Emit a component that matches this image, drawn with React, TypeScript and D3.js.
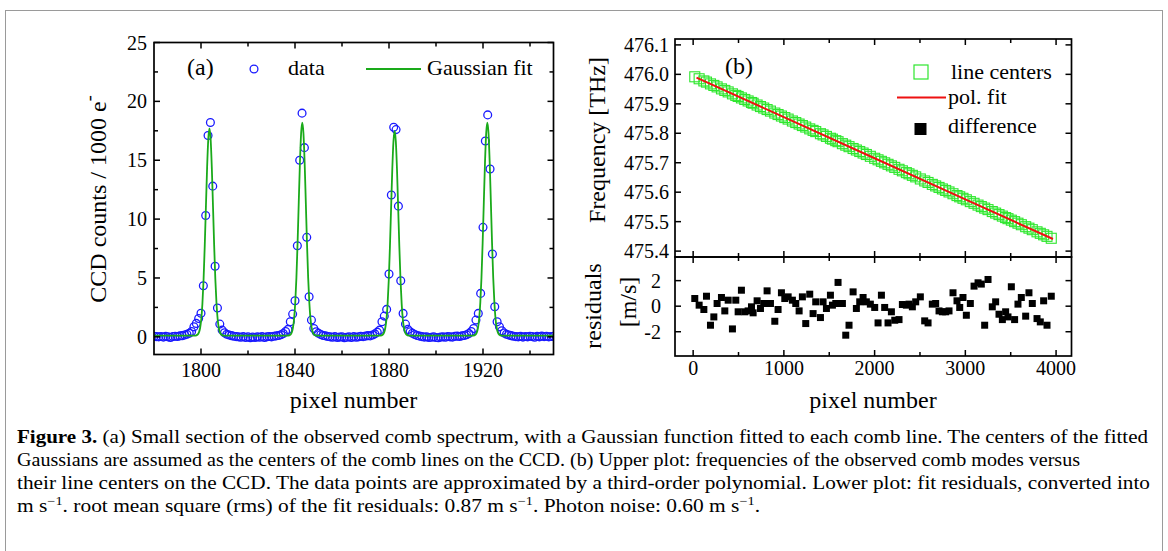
import React from "react";
import * as d3 from "d3";

const serif = '"Liberation Serif", "Times New Roman", serif';

// ---- panel (a): comb spectrum, one reading per CCD pixel from pixel 1780 on
const spectrumStart = 1780;
const spectrumCounts = [
  0.05, 0.02, 0.0, 0.03, -0.02, 0.04, 0.0, -0.05, 0.02, 0.05,
  0.03, 0.08, 0.1, 0.15, 0.22, 0.3, 0.45, 0.85, 1.14, 1.56,
  2.0, 4.34, 10.3, 17.1, 18.2, 12.8, 6.0, 2.45, 1.08, 0.57,
  0.34, 0.22, 0.15, 0.1, 0.05, 0.02, 0.0, -0.03, 0.02, -0.05,
  0.0, -0.08, -0.02, -0.05, 0.0, -0.03, 0.02, -0.06, 0.0, 0.03,
  0.0, 0.05, 0.08, 0.12, 0.18, 0.28, 0.45, 0.63, 1.28, 1.93,
  3.06, 7.74, 15.0, 19.0, 16.07, 8.45, 3.4, 1.42, 0.71, 0.43,
  0.3, 0.2, 0.12, 0.08, 0.03, 0.0, -0.04, 0.02, -0.06, -0.02,
  0.0, -0.08, -0.04, 0.0, -0.06, 0.02, -0.03, 0.0, 0.04, 0.02,
  0.06, 0.1, 0.08, 0.15, 0.25, 0.4, 0.57, 1.28, 1.76, 2.33,
  5.33, 12.05, 17.8, 17.6, 11.1, 4.76, 1.99, 1.08, 0.63, 0.43,
  0.3, 0.2, 0.12, 0.06, 0.02, -0.02, 0.0, -0.06, -0.03, 0.0,
  -0.05, -0.08, -0.02, 0.0, -0.04, 0.03, 0.0, -0.02, 0.04, 0.06,
  0.03, 0.08, 0.12, 0.18, 0.28, 0.45, 0.71, 1.42, 1.99, 3.69,
  9.3, 16.64, 18.85, 14.26, 7.03, 2.55, 1.28, 0.85, 0.51, 0.32,
  0.22, 0.15, 0.1, 0.05, 0.02, 0.0, 0.04, -0.02, 0.03, 0.0,
  0.05, 0.02, -0.03, 0.04, 0.0, 0.06, 0.02, 0.05, 0.0, 0.03,
  0.04,
];

// gaussian fit: centres, offsets from centre, fitted values
const fitBaseline = 0.1;
const fitCenters = [1803.6, 1843.1, 1882.4, 1921.85];
const fitOffsets = [-6, -5, -4, -3.5, -3, -2.5, -2, -1.5, -1, -0.5, 0, 0.5, 1, 1.5, 2, 2.5, 3, 3.5, 4, 5, 6];
const fitProfiles = [
  [0.11, 0.2, 0.73, 1.47, 2.81, 4.89, 7.76, 11.12, 14.39, 16.8, 17.7, 16.8, 14.39, 11.12, 7.76, 4.89, 2.81, 1.47, 0.73, 0.2, 0.11],
  [0.11, 0.2, 0.75, 1.51, 2.89, 5.02, 7.97, 11.43, 14.8, 17.28, 18.2, 17.28, 14.8, 11.43, 7.97, 5.02, 2.89, 1.51, 0.75, 0.2, 0.11],
  [0.11, 0.2, 0.73, 1.46, 2.78, 4.83, 7.67, 10.99, 14.23, 16.61, 17.5, 16.61, 14.23, 10.99, 7.67, 4.83, 2.78, 1.46, 0.73, 0.2, 0.11],
  [0.11, 0.2, 0.75, 1.51, 2.89, 5.02, 7.97, 11.43, 14.8, 17.28, 18.2, 17.28, 14.8, 11.43, 7.97, 5.02, 2.89, 1.51, 0.75, 0.2, 0.11],
];

const aTicksX = [1800, 1840, 1880, 1920];
const aMinorX = [1820, 1860, 1900, 1940];
const aTicksY = [0, 5, 10, 15, 20, 25];
const aMinorY = [2.5, 7.5, 12.5, 17.5, 22.5];

// ---- panel (b): line centres, frequencies and residuals
const linePixels = [
  18, 66, 118, 147, 191, 228, 264, 312, 349, 386, 433, 470, 496, 532, 569, 606, 643, 661, 705, 742,
  778, 815, 852, 900, 936, 973, 1010, 1047, 1094, 1131, 1168, 1204, 1241, 1285, 1322, 1351, 1403, 1432, 1469, 1513,
  1535, 1572, 1597, 1645, 1682, 1718, 1763, 1799, 1836, 1873, 1909, 1953, 2001, 2038, 2075, 2111, 2148, 2185, 2222, 2269,
  2306, 2350, 2379, 2416, 2453, 2504, 2552, 2589, 2636, 2673, 2710, 2747, 2783, 2820, 2864, 2908, 2938, 2974, 3011, 3055,
  3096, 3140, 3176, 3213, 3250, 3297, 3334, 3371, 3408, 3444, 3470, 3507, 3543, 3580, 3617, 3665, 3701, 3738, 3790, 3826,
  3863, 3900, 3947,
];
const lineFrequencies = [
  475.9917, 475.985, 475.9777, 475.9737, 475.9676, 475.9624, 475.9574, 475.9507, 475.9455, 475.9404,
  475.9338, 475.9286, 475.925, 475.92, 475.9148, 475.9097, 475.9045, 475.902, 475.8959, 475.8907,
  475.8857, 475.8805, 475.8753, 475.8686, 475.8636, 475.8585, 475.8533, 475.8481, 475.8416, 475.8364,
  475.8313, 475.8262, 475.8211, 475.8149, 475.8098, 475.8057, 475.7985, 475.7944, 475.7893, 475.7831,
  475.7801, 475.7749, 475.7714, 475.7647, 475.7596, 475.7545, 475.7483, 475.7432, 475.7381, 475.7329,
  475.7279, 475.7218, 475.7151, 475.7099, 475.7047, 475.6997, 475.6946, 475.6894, 475.6842, 475.6777,
  475.6725, 475.6664, 475.6623, 475.6572, 475.652, 475.6449, 475.6382, 475.633, 475.6265, 475.6213,
  475.6162, 475.611, 475.606, 475.6008, 475.5947, 475.5885, 475.5843, 475.5793, 475.5742, 475.568,
  475.5623, 475.5562, 475.5511, 475.546, 475.5408, 475.5343, 475.5291, 475.5239, 475.5188, 475.5138,
  475.5101, 475.505, 475.5, 475.4948, 475.4896, 475.4829, 475.4779, 475.4727, 475.4655, 475.4604,
  475.4553, 475.4501, 475.4436,
];
const residuals = [
  0.6, 0.08, -0.26, 0.78, -1.49, -0.84, 0.21, 0.68, -0.37, 0.47,
  -1.78, 0.47, -0.44, 1.25, -0.44, -0.37, -0.05, -0.52, 0.42, -0.18,
  0.21, 1.2, 0.21, -1.18, -0.26, 1.05, 0.6, 0.73, 0.47, 0.21,
  -0.37, 0.73, -1.36, 0.94, -0.58, 0.34, -0.89, 0.34, -0.18, 0.86,
  0.08, 0.21, 1.86, 0.21, -2.27, -1.49, 1.12, -0.18, 0.34, 0.68,
  0.34, 0.16, -0.1, -1.31, 0.86, -0.1, -1.31, -0.44, -1.1, -1.05,
  0.13, 0.08, 0.16, -0.05, 0.34, 0.73, -1.15, -1.31, 0.16, 0.21,
  -0.37, -0.44, -0.44, -0.37, 1.05, 0.42, -0.1, 0.68, -0.71, 0.21,
  1.57, 1.83, 1.73, -1.49, 2.09, -0.05, 0.34, -0.63, -1.05, -0.44,
  -0.84, 1.52, -1.05, 0.16, 0.68, -0.78, 1.05, 0.21, -0.97, -1.23,
  0.42, -1.49, 0.78,
];
const polFitPixels = [37, 1000, 2000, 3000, 3966];
const polFitFrequencies = [475.989, 475.8547, 475.7152, 475.5757, 475.441];

const bTicksX = [0, 1000, 2000, 3000, 4000];
const bMinorX = [500, 1500, 2500, 3500];
const bTicksY = [475.4, 475.5, 475.6, 475.7, 475.8, 475.9, 476.0, 476.1];
const rTicksY = [-2, 0, 2];

const captionLines = [
  " (a) Small section of the observed comb spectrum, with a Gaussian function fitted to each comb line. The centers of the fitted",
  "Gaussians are assumed as the centers of the comb lines on the CCD. (b) Upper plot: frequencies of the observed comb modes versus",
  "their line centers on the CCD. The data points are approximated by a third-order polynomial. Lower plot: fit residuals, converted into",
];

function frame(
  sx: d3.ScaleLinear<number, number>,
  sy: d3.ScaleLinear<number, number>,
  xMajor: number[],
  xMinor: number[],
  yMajor: number[],
  yMinor: number[],
  key: string
) {
  const [x0, x1] = sx.range();
  const [y0, y1] = sy.range();
  const els: React.ReactNode[] = [];
  const tick = (xs: number[], len: number, k: string) =>
    xs.forEach((v, i) => {
      const x = sx(v);
      els.push(<line key={`${key}${k}b${i}`} x1={x} x2={x} y1={y0} y2={y0 - len} />);
      els.push(<line key={`${key}${k}t${i}`} x1={x} x2={x} y1={y1} y2={y1 + len} />);
    });
  const tickY = (ys: number[], len: number, k: string) =>
    ys.forEach((v, i) => {
      const y = sy(v);
      els.push(<line key={`${key}${k}l${i}`} x1={x0} x2={x0 + len} y1={y} y2={y} />);
      els.push(<line key={`${key}${k}r${i}`} x1={x1} x2={x1 - len} y1={y} y2={y} />);
    });
  tick(xMajor, 6, "M");
  tick(xMinor, 4, "m");
  tickY(yMajor, 6, "M");
  tickY(yMinor, 4, "m");
  return (
    <g stroke="#000" strokeWidth={1.5} fill="none">
      <rect x={x0} y={y1} width={x1 - x0} height={y0 - y1} strokeWidth={1.7} />
      {els}
    </g>
  );
}

export default function App() {
  const ax = d3.scaleLinear().domain([1780, 1950]).range([154, 553.5]);
  const ay = d3.scaleLinear().domain([-1.5, 25]).range([354.5, 42.5]);
  const bx = d3.scaleLinear().domain([-200, 4170]).range([675, 1071.5]);
  const by = d3.scaleLinear().domain([475.38, 476.12]).range([257, 39]);
  const ry = d3.scaleLinear().domain([-3.9, 3.85]).range([356, 257]);

  const spectrum = spectrumCounts.map((c, i) => ({ x: spectrumStart + i, y: c }));
  const fitPts: [number, number][] = [[1780, fitBaseline]];
  fitCenters.forEach((c, k) => fitOffsets.forEach((o, j) => fitPts.push([c + o, fitProfiles[k][j]])));
  fitPts.push([1950, fitBaseline]);
  const fitLine = d3
    .line<[number, number]>()
    .x((d) => ax(d[0]))
    .y((d) => ay(d[1]))
    .curve(d3.curveMonotoneX);

  const polLine = d3
    .line<number>()
    .x((p) => bx(p))
    .y((_, i) => by(polFitFrequencies[i]));

  const tickFont = { fontFamily: serif, fontSize: 20, fill: "#000" };

  return (
    <svg
      width={1168}
      height={551}
      style={{ position: "absolute", left: 0, top: 0, background: "#fff" }}
      fontFamily={serif}
    >
      <rect x={5.5} y={10.5} width={1157} height={560} fill="#fff" stroke="#9a9a9a" strokeWidth={1} />
      <defs>
        <clipPath id="clipA">
          <rect x={154} y={42.5} width={399.5} height={312} />
        </clipPath>
      </defs>

      {/* ---------- panel (a) ---------- */}
      <g clipPath="url(#clipA)">
        {spectrum.map((d, i) => (
          <circle key={i} cx={ax(d.x)} cy={ay(d.y)} r={3.9} fill="none" stroke="#1a1aff" strokeWidth={1.3} />
        ))}
        <path d={fitLine(fitPts) || ""} fill="none" stroke="#1aaa1a" strokeWidth={1.8} />
      </g>
      {frame(ax, ay, aTicksX, aMinorX, aTicksY, aMinorY, "a")}
      {aTicksY.map((v) => (
        <text key={"ay" + v} x={147} y={ay(v) + 7} textAnchor="end" {...tickFont}>
          {v}
        </text>
      ))}
      {aTicksX.map((v) => (
        <text key={"ax" + v} x={ax(v)} y={377} textAnchor="middle" {...tickFont}>
          {v}
        </text>
      ))}
      <text x={353.5} y={408} textAnchor="middle" fontSize={24}>
        pixel number
      </text>
      <text transform="translate(106,199) rotate(-90)" textAnchor="middle" fontSize={24}>
        CCD counts / 1000 e
        <tspan dy={-11} fontSize={18}>
          -
        </tspan>
      </text>
      <text x={187} y={75} fontSize={24}>
        (a)
      </text>
      <circle cx={254} cy={69} r={3.9} fill="none" stroke="#1a1aff" strokeWidth={1.3} />
      <text x={288} y={75} fontSize={22}>
        data
      </text>
      <line x1={366} x2={421} y1={69} y2={69} stroke="#1aaa1a" strokeWidth={1.8} />
      <text x={427} y={75} fontSize={22}>
        Gaussian fit
      </text>

      {/* ---------- panel (b) upper ---------- */}
      {linePixels.map((p, i) => (
        <rect
          key={"sq" + i}
          x={bx(p) - 5}
          y={by(lineFrequencies[i]) - 5}
          width={10}
          height={10}
          fill="none"
          stroke="#2ee62e"
          strokeWidth={1.1}
        />
      ))}
      <path d={polLine(polFitPixels) || ""} fill="none" stroke="#ee1111" strokeWidth={2} />
      {frame(bx, by, bTicksX, bMinorX, bTicksY, [], "b")}
      {bTicksY.map((v) => (
        <text key={"by" + v} x={669} y={by(v) + 7} textAnchor="end" {...tickFont}>
          {v.toFixed(1)}
        </text>
      ))}
      <text transform="translate(605,140) rotate(-90)" textAnchor="middle" fontSize={24}>
        Frequency [THz]
      </text>
      <text x={725} y={74} fontSize={24}>
        (b)
      </text>
      <rect x={914} y={65} width={14} height={14} fill="none" stroke="#2ee62e" strokeWidth={1.2} />
      <text x={951} y={79} fontSize={22}>
        line centers
      </text>
      <line x1={897} x2={946} y1={97.5} y2={97.5} stroke="#ee1111" strokeWidth={2} />
      <text x={948} y={104} fontSize={22}>
        pol. fit
      </text>
      <rect x={914.5} y={123} width={12} height={12} fill="#000" />
      <text x={948} y={133} fontSize={22}>
        difference
      </text>

      {/* ---------- panel (b) residuals ---------- */}
      {linePixels.map((p, i) => (
        <rect key={"rs" + i} x={bx(p) - 3.5} y={ry(residuals[i]) - 3.5} width={7} height={7} fill="#000" />
      ))}
      {frame(bx, ry, bTicksX, bMinorX, rTicksY, [], "r")}
      {rTicksY.map((v) => (
        <text key={"ry" + v} x={661} y={ry(v) + 7} textAnchor="end" {...tickFont}>
          {v}
        </text>
      ))}
      {bTicksX.map((v) => (
        <text key={"bx" + v} x={bx(v)} y={375} textAnchor="middle" {...tickFont}>
          {v}
        </text>
      ))}
      <text transform="translate(601,306) rotate(-90)" textAnchor="middle" fontSize={24}>
        residuals
      </text>
      <text transform="translate(636,302) rotate(-90)" textAnchor="middle" fontSize={24}>
        [m/s]
      </text>
      <text x={873} y={408} textAnchor="middle" fontSize={24}>
        pixel number
      </text>

      {/* ---------- caption ---------- */}
      <g fontSize={18} fill="#000">
        <text x={17} y={443} textLength={1131} lengthAdjust="spacingAndGlyphs">
          <tspan fontWeight="bold">Figure 3.</tspan>
          {captionLines[0]}
        </text>
        <text x={17} y={466} textLength={1063} lengthAdjust="spacingAndGlyphs">
          {captionLines[1]}
        </text>
        <text x={17} y={489} textLength={1133} lengthAdjust="spacingAndGlyphs">
          {captionLines[2]}
        </text>
        <text x={17} y={512} textLength={743} lengthAdjust="spacingAndGlyphs">
          m s<tspan dy={-7} fontSize={12}>−1</tspan>
          <tspan dy={7}>. root mean square (rms) of the fit residuals: 0.87 m s</tspan>
          <tspan dy={-7} fontSize={12}>−1</tspan>
          <tspan dy={7}>. Photon noise: 0.60 m s</tspan>
          <tspan dy={-7} fontSize={12}>−1</tspan>
          <tspan dy={7}>.</tspan>
        </text>
      </g>
    </svg>
  );
}
